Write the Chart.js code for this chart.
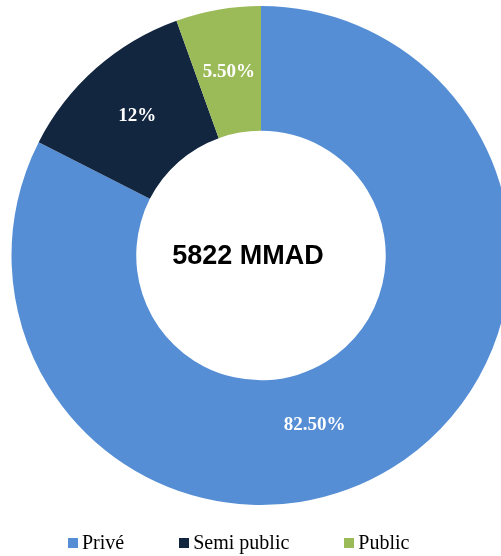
<!DOCTYPE html>
<html>
<head>
<meta charset="utf-8">
<script src="https://cdn.jsdelivr.net/npm/chart.js@4/dist/chart.umd.min.js"></script>
<style>
  html, body { margin: 0; padding: 0; background: #fff; overflow: hidden; width: 501px; height: 556px; }
  #wrap { position: relative; width: 501px; height: 556px; overflow: hidden; }
  canvas { position: absolute; left: 0; top: 0; }
  #legend { position: absolute; left: 68px; top: 531px; display: flex; font-family: "Liberation Serif", serif; font-size: 20px; color: #000; line-height: 22px; }
  .item { display: flex; align-items: center; margin-right: 55px; }
  .box { width: 10px; height: 10px; margin-right: 4px; margin-top: 1px; }
</style>
</head>
<body>
<div id="wrap">
  <canvas id="c" width="522" height="556"></canvas>
  <div id="legend"></div>
</div>
<script>
const categories = ["Privé", "Semi public", "Public"];
const values = [82.5, 12, 5.5];
const valueLabels = ["82.50%", "12%", "5.50%"];
const colors = ["#558ED5", "#12263F", "#9BBB59"];
const centerLabel = "5822 MMAD";

const labelPlugin = {
  id: 'sliceLabels',
  afterDatasetsDraw(chart, args, opts) {
    const ctx = chart.ctx;
    const meta = chart.getDatasetMeta(0);
    ctx.save();
    ctx.fillStyle = '#fff';
    ctx.font = 'bold 19px "Liberation Serif", serif';
    ctx.textAlign = 'center';
    ctx.textBaseline = 'middle';
    meta.data.forEach((arc, i) => {
      const p = arc.getProps(['x', 'y', 'startAngle', 'endAngle', 'outerRadius'], true);
      let ang = (p.startAngle + p.endAngle) / 2;
      if (opts.angles[i] != null) ang = opts.angles[i] * Math.PI / 180 - Math.PI / 2;
      const r = p.outerRadius * opts.radius[i];
      ctx.fillText(valueLabels[i], p.x + Math.cos(ang) * r, p.y + Math.sin(ang) * r + 1);
    });
    const a0 = meta.data[0];
    ctx.fillStyle = '#000';
    ctx.font = 'bold 27px "Liberation Sans", Arial, sans-serif';
    ctx.fillText(centerLabel, a0.x + opts.centerDx, a0.y + 1);
    ctx.restore();
  }
};

new Chart(document.getElementById('c'), {
  type: 'doughnut',
  data: {
    labels: categories,
    datasets: [{ data: values, backgroundColor: colors, borderWidth: 0 }]
  },
  options: {
    responsive: false,
    animation: false,
    devicePixelRatio: 1,
    cutout: '50%',
    layout: { padding: { top: 6, bottom: 51, left: 0, right: 0 } },
    plugins: {
      legend: { display: false },
      tooltip: { enabled: false },
      sliceLabels: { angles: [162.4, null, null], radius: [0.71, 0.75, 0.75], centerDx: -13 }
    }
  },
  plugins: [labelPlugin]
});

const lg = document.getElementById('legend');
categories.forEach((c, i) => {
  const it = document.createElement('div');
  it.className = 'item';
  const b = document.createElement('span');
  b.className = 'box';
  b.style.background = colors[i];
  const t = document.createElement('span');
  t.textContent = c;
  it.appendChild(b); it.appendChild(t);
  lg.appendChild(it);
});
</script>
</body>
</html>
